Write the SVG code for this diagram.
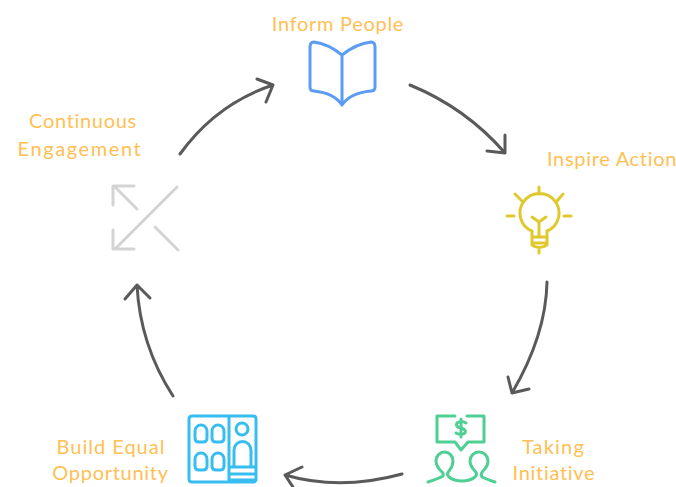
<svg xmlns="http://www.w3.org/2000/svg" width="676" height="487" viewBox="0 0 676 487">
<style>
.t{font-family:"Lato","Liberation Sans",sans-serif;font-weight:400;font-size:20px;fill:#ffc053;text-anchor:middle;letter-spacing:.7px}
.i{fill:none;stroke-width:3;stroke-linecap:round;stroke-linejoin:round}
.c{fill:none;stroke:#5a5a5a;stroke-width:3;stroke-linecap:round;stroke-linejoin:round}
</style>
<rect width="676" height="487" fill="#fff"/>
<g id="connectors">
<path class="c" d="M410 85Q466 108 505 153M505 135L505 153L487 151"/>
<path class="c" d="M547 282Q546 335 512 393M508 377L512 393L529 389"/>
<path class="c" d="M402 474Q340 491 285 475M302 467L285 475L293 487"/>
<path class="c" d="M173 396Q140 345 137 285M125 299L137 285L150 298"/>
<path class="c" d="M180 154Q216 104 273 85M257 79L273 85L266 102"/>
</g>
<g id="inform-people">
<path class="i" stroke="#5b9cf5" d="M342 55C332 47 322 43 314 42Q310 42 310 47V87Q310 91 314 91C324 92 336 96 342 105C348 96 360 92 371 91Q375 91 375 87V47Q375 42 371 42C362 43 352 47 342 55V105"/>
<text class="t" x="338" y="31">Inform People</text>
</g>
<g id="inspire-action">
<path class="i" stroke="#e0c92e" d="M539 187V194M515 194L522 201M563 194L557 201M507 216H514M564 216H571M532 237V231A19.500 19.500 0 1 1 547 231V237ZM532 237V245Q539 250 547 245V237M532 243H547M539 250V253M539 237V222M532 217L539 222L546 217"/>
<text class="t" x="612" y="166">Inspire Action</text>
</g>
<g id="taking-initiative">
<path class="i" stroke="#4ecf94" d="M455 416H437V442H455L461 450L468 442H484V416H467M466 423Q461 420 457 423Q455 427 461 428Q467 430 465 433Q461 436 456 433M461 419V437M428 482Q440 478 443 476Q444 473 441 471Q436 466 436 461A8.500 9 0 0 1 453 461Q453 466 449 471Q446 474 449 477Q454 481 462 481Q470 481 475 477Q478 474 475 471Q470 466 470 461A9 9 0 0 1 488 461Q488 466 483 471Q480 474 482 477Q486 479 495 482"/>
<text class="t" x="553.500" y="454" style="letter-spacing:1.2px">Taking</text>
<text class="t" x="554" y="480">Initiative</text>
</g>
<g id="build-equal-opportunity">
<path class="i" stroke="#38bdf0" d="M192 416H253Q256 416 256 419V479Q256 482 253 482H192Q189 482 189 479V419Q189 416 192 416ZM229 416V482M229 467H256M229 474H256M229 480H256M195 431A6 6 0 0 1 207 431V438Q207 442 203 442H199Q195 442 195 438ZM212 431A6 6 0 0 1 224 431V438Q224 442 220 442H216Q212 442 212 438ZM195 459A6 6 0 0 1 207 459V466Q207 470 203 470H199Q195 470 195 466ZM212 459A6 6 0 0 1 224 459V466Q224 470 220 470H216Q212 470 212 466ZM234 467V450A8.500 8.500 0 0 1 251 450V467"/>
<circle class="i" stroke="#38bdf0" cx="242" cy="429" r="6"/>
<text class="t" x="111" y="454" style="letter-spacing:1px">Build Equal</text>
<text class="t" x="110.500" y="480">Opportunity</text>
</g>
<g id="continuous-engagement">
<path class="i" stroke="#d4d4d4" d="M177 187L115 249M113 230V249H134M137 209L114 186M113 205V186H134M155 227L178 250"/>
<text class="t" x="83" y="128">Continuous</text>
<text class="t" x="80" y="156" style="letter-spacing:1.6px">Engagement</text>
</g>
</svg>
